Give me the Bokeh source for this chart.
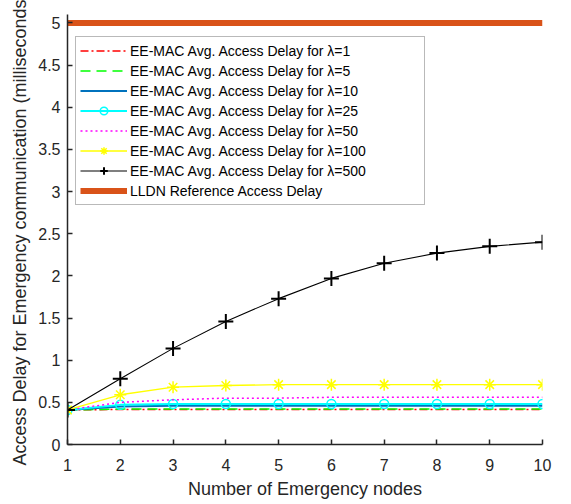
from bokeh.plotting import figure
from bokeh.models import Range1d, FixedTicker, Legend, LegendItem
from bokeh.embed import file_html
from bokeh.resources import INLINE

nodes = [1, 2, 3, 4, 5, 6, 7, 8, 9, 10]
delay_l1 = [0.41, 0.415, 0.415, 0.415, 0.415, 0.415, 0.415, 0.415, 0.415, 0.415]
delay_l5 = [0.41, 0.42, 0.42, 0.42, 0.42, 0.42, 0.42, 0.42, 0.42, 0.42]
delay_l10 = [0.41, 0.45, 0.46, 0.46, 0.46, 0.46, 0.46, 0.46, 0.46, 0.46]
delay_l25 = [0.41, 0.47, 0.48, 0.48, 0.48, 0.48, 0.48, 0.48, 0.48, 0.48]
delay_l50 = [0.41, 0.50, 0.53, 0.55, 0.55, 0.56, 0.56, 0.56, 0.56, 0.56]
delay_l100 = [0.41, 0.59, 0.68, 0.70, 0.71, 0.71, 0.71, 0.71, 0.71, 0.71]
delay_l500 = [0.41, 0.78, 1.14, 1.46, 1.73, 1.97, 2.15, 2.27, 2.35, 2.40]
lldn_ref = [5.0, 5.0, 5.0, 5.0, 5.0, 5.0, 5.0, 5.0, 5.0, 5.0]

y_ticks = [0, 0.5, 1, 1.5, 2, 2.5, 3, 3.5, 4, 4.5, 5]
y_tick_labels = ["0", "0.5", "1", "1.5", "2", "2.5", "3", "3.5", "4", "4.5", "5"]

labels = [
    "EE-MAC Avg. Access Delay for \u03bb=1",
    "EE-MAC Avg. Access Delay for \u03bb=5",
    "EE-MAC Avg. Access Delay for \u03bb=10",
    "EE-MAC Avg. Access Delay for \u03bb=25",
    "EE-MAC Avg. Access Delay for \u03bb=50",
    "EE-MAC Avg. Access Delay for \u03bb=100",
    "EE-MAC Avg. Access Delay for \u03bb=500",
    "LLDN Reference Access Delay",
]

FONT = "Liberation Sans"
AX = "#262626"

p = figure(width=563, height=503, output_backend="svg", toolbar_location=None,
           x_range=Range1d(1, 10), y_range=Range1d(0, 5.1),
           min_border_left=67, min_border_right=21, min_border_top=14, min_border_bottom=59)
p.outline_line_color = None
p.grid.visible = False
p.background_fill_color = "white"

for ax in (p.xaxis[0], p.yaxis[0]):
    ax.axis_line_color = AX
    ax.axis_line_width = 1.5
    ax.major_tick_line_color = AX
    ax.major_tick_line_width = 1.5
    ax.major_tick_in = 5
    ax.major_tick_out = 0
    ax.minor_tick_line_color = None
    ax.major_label_text_font = FONT
    ax.major_label_text_font_size = "16px"
    ax.major_label_text_color = AX
    ax.axis_label_text_font = FONT
    ax.axis_label_text_font_size = "18px"
    ax.axis_label_text_font_style = "normal"
    ax.axis_label_text_color = AX

p.xaxis.ticker = FixedTicker(ticks=nodes)
p.xaxis.major_label_standoff = 14
p.xaxis.axis_label_standoff = 5
p.xaxis.axis_label = "Number of Emergency nodes"

p.yaxis.ticker = FixedTicker(ticks=y_ticks)
p.yaxis.major_label_overrides = {t: l for t, l in zip(y_ticks, y_tick_labels)}
p.yaxis.major_label_standoff = 7
p.yaxis.axis_label_standoff = 5
p.yaxis.axis_label = "Access Delay for Emergency communication (milliseconds)"

r1 = p.line(nodes, delay_l1, line_color="#FF0000", line_width=1.5, line_dash="8 3 2 3")
r2 = p.line(nodes, delay_l5, line_color="#00FF00", line_width=1.5, line_dash="10 6")
r3 = p.line(nodes, delay_l10, line_color="#0072BD", line_width=2)
r4 = p.line(nodes, delay_l25, line_color="#00FFFF", line_width=2)
r4m = p.scatter(nodes, delay_l25, marker="circle", size=9, fill_color=None,
                line_color="#00FFFF", line_width=1.5)
r5 = p.line(nodes, delay_l50, line_color="#FF00FF", line_width=1.5, line_dash="2 3")
r6 = p.line(nodes, delay_l100, line_color="#FFFF00", line_width=1.3)
r6m = p.scatter(nodes, delay_l100, marker="asterisk", size=12, line_color="#FFFF00", line_width=1.5)
r7 = p.line(nodes, delay_l500, line_color="black", line_width=1.1)
r7m = p.scatter(nodes, delay_l500, marker="cross", size=15, line_color="black", line_width=2)
r8 = p.line(nodes, lldn_ref, line_color="#D95319", line_width=6)

items = [
    LegendItem(label=labels[0], renderers=[r1]),
    LegendItem(label=labels[1], renderers=[r2]),
    LegendItem(label=labels[2], renderers=[r3]),
    LegendItem(label=labels[3], renderers=[r4, r4m]),
    LegendItem(label=labels[4], renderers=[r5]),
    LegendItem(label=labels[5], renderers=[r6, r6m]),
    LegendItem(label=labels[6], renderers=[r7, r7m]),
    LegendItem(label=labels[7], renderers=[r8]),
]
legend = Legend(items=items, location=(8, 239),
                label_text_font=FONT, label_text_font_size="14px", label_text_color="black",
                glyph_width=47, glyph_height=19, label_height=19, label_width=290,
                label_standoff=3, spacing=1, padding=4, margin=0,
                border_line_color="#737373", border_line_width=1,
                background_fill_color="white", background_fill_alpha=1.0)
p.add_layout(legend, "center")

open("out.html", "w").write(file_html(p, INLINE))
